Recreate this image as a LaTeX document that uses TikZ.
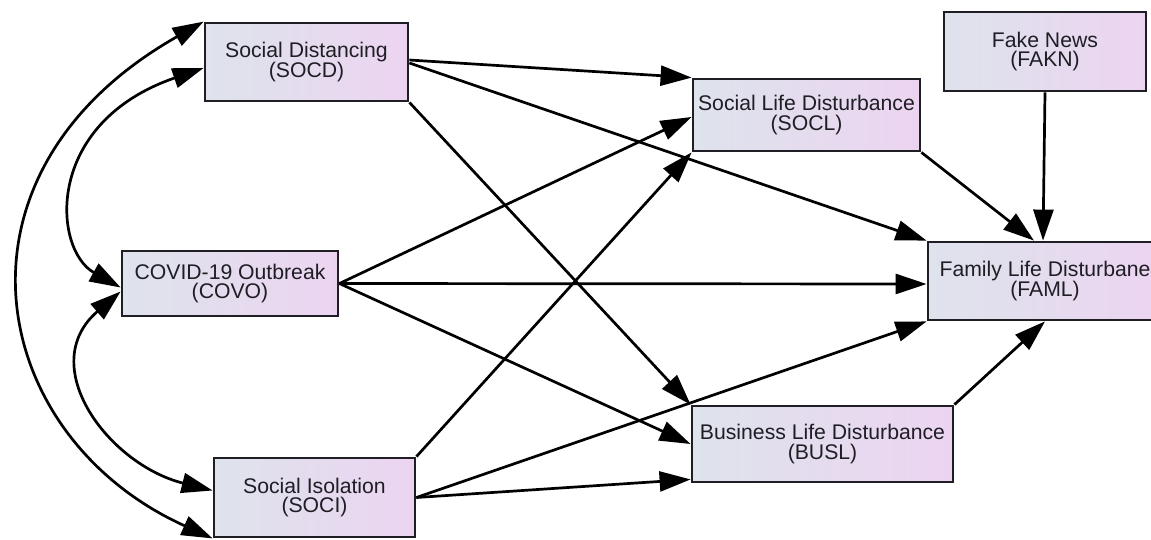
\documentclass[tikz,border=0pt]{standalone}
\usepackage{fontspec}
\setmainfont{Liberation Sans}
\usetikzlibrary{arrows.meta}
\definecolor{boxleft}{RGB}{222,227,236}
\definecolor{boxright}{RGB}{236,212,241}
\definecolor{ink}{RGB}{30,30,36}
\tikzset{
  varbox/.style={draw=ink, line width=2.8pt, left color=boxleft, right color=boxright,
    inner sep=0pt, align=center, text=ink,
    font=\fontsize{21.2}{19.5}\selectfont},
  path/.style={draw=black, line width=2.7pt, -{Triangle[length=31pt,width=20pt]}},
  cov/.style={draw=black, line width=2.7pt, {Triangle[length=31pt,width=20pt]}-{Triangle[length=31pt,width=20pt]}}
}
\begin{document}
\begin{tikzpicture}[x=1pt,y=-1pt]
\useasboundingbox (0,0) rectangle (1151,539);
\fill[white] (0,0) rectangle (1151,539);
\node[varbox, minimum width=203pt, minimum height=78pt] (socd) at (306.5,62) {Social Distancing\\(SOCD)};
\node[varbox, minimum width=216pt, minimum height=65pt] (covo) at (230,283.5) {COVID-19 Outbreak\\(COVO)};
\node[varbox, minimum width=201pt, minimum height=79pt] (soci) at (314.5,497.5) {Social Isolation\\(SOCI)};
\node[varbox, minimum width=227pt, minimum height=72pt] (socl) at (806.5,115) {Social Life Disturbance\\(SOCL)};
\node[varbox, minimum width=202pt, minimum height=79pt] (fakn) at (1045,51.5) {Fake News\\(FAKN)};
\node[varbox, minimum width=234pt, minimum height=78pt] (faml) at (1045,281) {Family Life Disturbane\\(FAML)};
\node[varbox, minimum width=261pt, minimum height=76pt] (busl) at (822.5,444) {Business Life Disturbance\\(BUSL)};

% covariances
\draw[cov] (socd.north west) .. controls +(-268,152) and +(-226,-102) .. (soci.south west);
\draw[cov] ([yshift=-6pt]socd.west) .. controls +(-160,55) and +(-68,-38) .. ([yshift=-4pt]covo.west);
\draw[cov] ([yshift=-8pt]covo.west) .. controls +(-86,74) and +(-104,-26) .. ([yshift=7pt]soci.west);

% paths
\draw[path] ([yshift=2pt]socd.east) -- (socl.north west);
\draw[path] ([yshift=-1pt]socd.east) -- (faml.north west);
\draw[path] (socd.south east) -- (busl.north west);
\draw[path] (covo.east) -- ([yshift=-2pt]socl.west);
\draw[path] (covo.east) -- ([yshift=-3pt]faml.west);
\draw[path] (covo.east) -- (busl.west);
\draw[path] (soci.north east) -- (socl.south west);
\draw[path] (soci.east) -- (faml.south west);
\draw[path] (soci.east) -- ([yshift=4pt]busl.south west);
\draw[path] (socl.south east) -- ([xshift=-11pt]faml.north);
\draw[path] (fakn.south) -- ([xshift=-2pt]faml.north);
\draw[path] (busl.north east) -- (faml.south);
\end{tikzpicture}
\end{document}
